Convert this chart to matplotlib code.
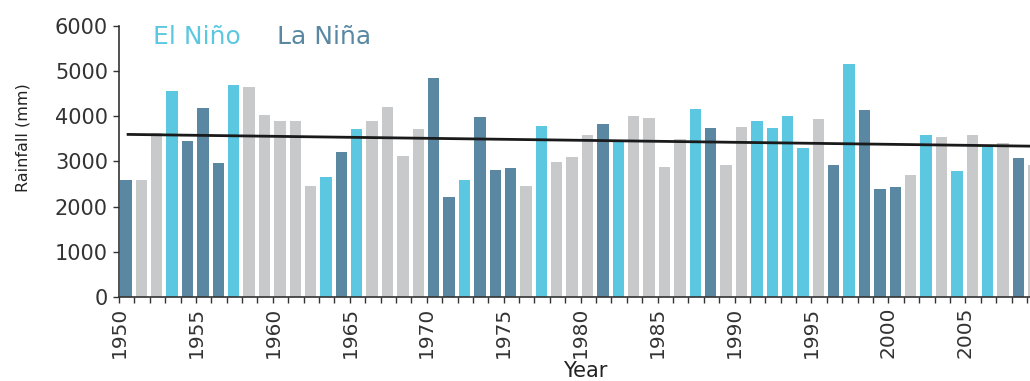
import matplotlib
matplotlib.use("Agg")
import matplotlib.pyplot as plt
import numpy as np

# ---- data ----
years = list(range(1950, 2010))
rainfall = [
    2600, 2590, 3640, 4560, 3450, 4190, 2960, 4690, 4650, 4020,  # 1950-1959
    3900, 3900, 2460, 2660, 3210, 3720, 3900, 4200, 3120, 3710,  # 1960-1969
    4840, 2220, 2590, 3980, 2820, 2850, 2450, 3790, 2980, 3090,  # 1970-1979
    3590, 3840, 3440, 4000, 3970, 2880, 3500, 4160, 3750, 2930,  # 1980-1989
    3770, 3900, 3750, 4010, 3290, 3930, 2930, 5160, 4140, 2400,  # 1990-1999
    2425, 2700, 3585, 3535, 2795, 3585, 3320, 3420, 3070, 2920,  # 2000-2009
]
# E = El Niño, L = La Niña, N = neutral
phase = (
    "LNNELLLENN"
    "NNNELENNNN"
    "LLELLLNENN"
    "NLENNNNELN"
    "NEEEENLELL"
    "LNENENENLN"
)
trend_years = [1950.5, 2009.2]
trend_values = [3600, 3340]
yticks = [0, 1000, 2000, 3000, 4000, 5000, 6000]
xticks_major = list(range(1950, 2010, 5))

colors = {"E": "#5cc7e0", "L": "#5a88a3", "N": "#c8c9cb"}
bar_colors = [colors[p] for p in phase]

W, H = 1030, 381
fig = plt.figure(figsize=(W / 100, H / 100), dpi=100)
plt.rcParams["font.family"] = ["DejaVu Sans"]

x0, x1 = 119, 1030
y_bot, y_top = 297, 26
ax = fig.add_axes([x0 / W, 1 - y_bot / H, (x1 - x0) / W, (y_bot - y_top) / H])

ax.bar(np.array(years) + 0.08, rainfall, width=0.74, align="edge",
       color=bar_colors, edgecolor="none", zorder=2)
ax.plot(trend_years, trend_values, color="#1a1a1a", lw=2.0, zorder=3,
        solid_capstyle="butt")

ax.set_xlim(1950, 2009.2)
ax.set_ylim(0, 6000)
ax.set_yticks(yticks)
ax.set_xticks(xticks_major)
ax.set_xticks(years, minor=True)
ax.set_xticklabels([str(y) for y in xticks_major], rotation=90)

for s in ["top", "right"]:
    ax.spines[s].set_visible(False)
for s in ["left", "bottom"]:
    ax.spines[s].set_color("#333333")
    ax.spines[s].set_linewidth(1.2)

ax.tick_params(axis="y", length=4, width=1.0, color="#333333", pad=4,
               labelsize=15, labelcolor="#333333")
ax.tick_params(axis="x", which="both", length=4, width=1.0, color="#333333",
               direction="out")
ax.tick_params(axis="x", which="major", pad=3, labelsize=14.5,
               labelcolor="#333333")

# axis labels
fig.text(23 / W, 1 - 138 / H, "Rainfall (mm)", rotation=90, ha="center",
         va="center", fontsize=11.5, color="#222222")
fig.text(585 / W, 1 - 371 / H, "Year", ha="center", va="center",
         fontsize=15, color="#222222")

# legend texts
fig.text(153 / W, 1 - 37 / H, "El Niño", ha="left", va="center",
         fontsize=18, color=colors["E"])
fig.text(277 / W, 1 - 37 / H, "La Niña", ha="left", va="center",
         fontsize=18, color=colors["L"])

fig.savefig("out.png", dpi=100)
